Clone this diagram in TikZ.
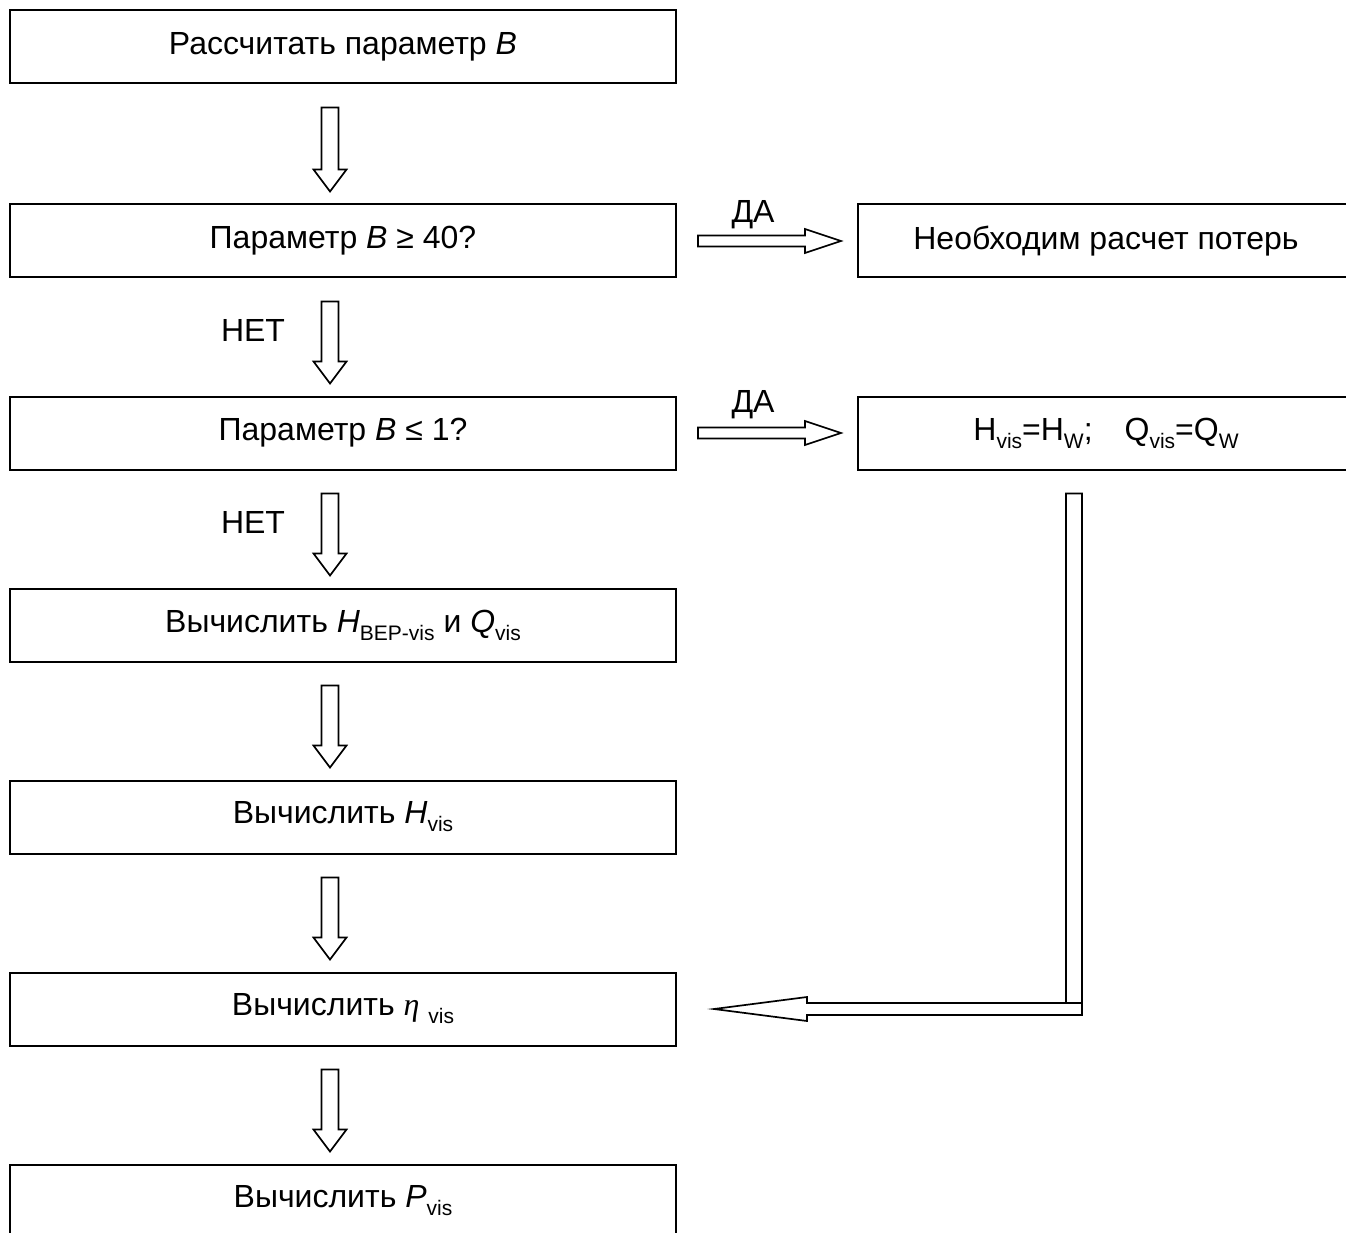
\documentclass[tikz,border=0pt]{standalone}
\usepackage{fontspec}
\setmainfont{Liberation Sans}
\newfontfamily\greekserif{Liberation Serif}
\usetikzlibrary{calc}
\newcommand{\lowidx}[1]{\raisebox{-0.25em}{\fontsize{21}{21}\selectfont #1}}

\begin{document}
\begin{tikzpicture}[x=1pt, y=-1pt, line width=2pt,
    box/.style={draw, rectangle, minimum width=666pt, minimum height=73pt, inner sep=0pt, font=\fontsize{32}{38}\selectfont},
    sidebox/.style={box, minimum width=496pt},
    lbl/.style={font=\fontsize{32}{38}\selectfont, inner sep=0pt},
    downarrow/.style={line width=1.7pt, to path={let \p1=(\tikztostart), \p2=(\tikztotarget) in
        (\x1-8.5pt,\y1-23pt) -- (\x1+8.5pt,\y1-23pt) -- (\x1+8.5pt,\y2+34pt) -- (\x1+16.5pt,\y2+34pt)
        -- (\x1,\y2+12pt) -- (\x1-16.5pt,\y2+34pt) -- (\x1-8.5pt,\y2+34pt) -- cycle}},
    rightarrow/.style={line width=1.7pt, to path={let \p1=(\tikztostart), \p2=(\tikztotarget) in
        (\x1+21pt,\y1+5.5pt) -- (\x2-52pt,\y1+5.5pt) -- (\x2-52pt,\y1+12pt) -- (\x2-16pt,\y1)
        -- (\x2-52pt,\y1-12pt) -- (\x2-52pt,\y1-5.5pt) -- (\x1+21pt,\y1-5.5pt) -- cycle}},
    backarrow/.style={line width=1.7pt, to path={let \p1=(\tikztostart), \p2=(\tikztotarget) in
        (\x1-40pt,\y1-23pt) -- (\x1-24pt,\y1-23pt) -- (\x1-24pt,\y2-6pt) -- (\x2+130pt,\y2-6pt)
        -- (\x2+130pt,\y2-12pt) -- (\x2+37pt,\y2) -- (\x2+130pt,\y2+12pt) -- (\x2+130pt,\y2+6pt)
        -- (\x1-40pt,\y2+6pt) -- cycle (\x1-40pt,\y2+6pt) -- (\x1-24pt,\y2+6pt)}}]
    \useasboundingbox (0,0) rectangle (1346,1233);

    % Main column of steps
    \node[box] (b1) at (343,47) {Рассчитать параметр \textit{B}};
    \node[box] (b2) at (343,241) {Параметр \textit{B} ≥ 40?};
    \node[box] (b3) at (343,433) {Параметр \textit{B} ≤ 1?};
    \node[box] (b4) at (343,625) {Вычислить \textit{H}\lowidx{BEP-vis} и \textit{Q}\lowidx{vis}};
    \node[box] (b5) at (343,817) {Вычислить \textit{H}\lowidx{vis}};
    \node[box] (b6) at (343,1009) {Вычислить {\greekserif\itshape η} \lowidx{vis}};
    \node[box] (b7) at (343,1201) {Вычислить \textit{P}\lowidx{vis}};

    % Side boxes for the ДА branches
    \node[sidebox] (r1) at (1106,241) {Необходим расчет потерь};
    \node[sidebox] (r2) at (1106,433) {H\lowidx{vis}=H\lowidx{W};\quad Q\lowidx{vis}=Q\lowidx{W}};

    % Branch labels
    \node[lbl] (no1) at (253,330) {НЕТ};
    \node[lbl] (no2) at (253,522) {НЕТ};
    \node[lbl] (yes1) at (753,215) {ДА};
    \node[lbl] (yes2) at (753,405) {ДА};

    % Hollow arrows down the column
    \draw[downarrow] ([xshift=-13pt]b1.south) to ([xshift=-13pt]b2.north);
    \draw[downarrow] ([xshift=-13pt]b2.south) to ([xshift=-13pt]b3.north);
    \draw[downarrow] ([xshift=-13pt]b3.south) to ([xshift=-13pt]b4.north);
    \draw[downarrow] ([xshift=-13pt]b4.south) to ([xshift=-13pt]b5.north);
    \draw[downarrow] ([xshift=-13pt]b5.south) to ([xshift=-13pt]b6.north);
    \draw[downarrow] ([xshift=-13pt]b6.south) to ([xshift=-13pt]b7.north);

    % Yes branches and the way back
    \draw[rightarrow] (b2.east) to (r1.west);
    \draw[rightarrow] (b3.east) to (r2.west);
    \draw[backarrow] (r2.south) to (b6.east);
\end{tikzpicture}
\end{document}
